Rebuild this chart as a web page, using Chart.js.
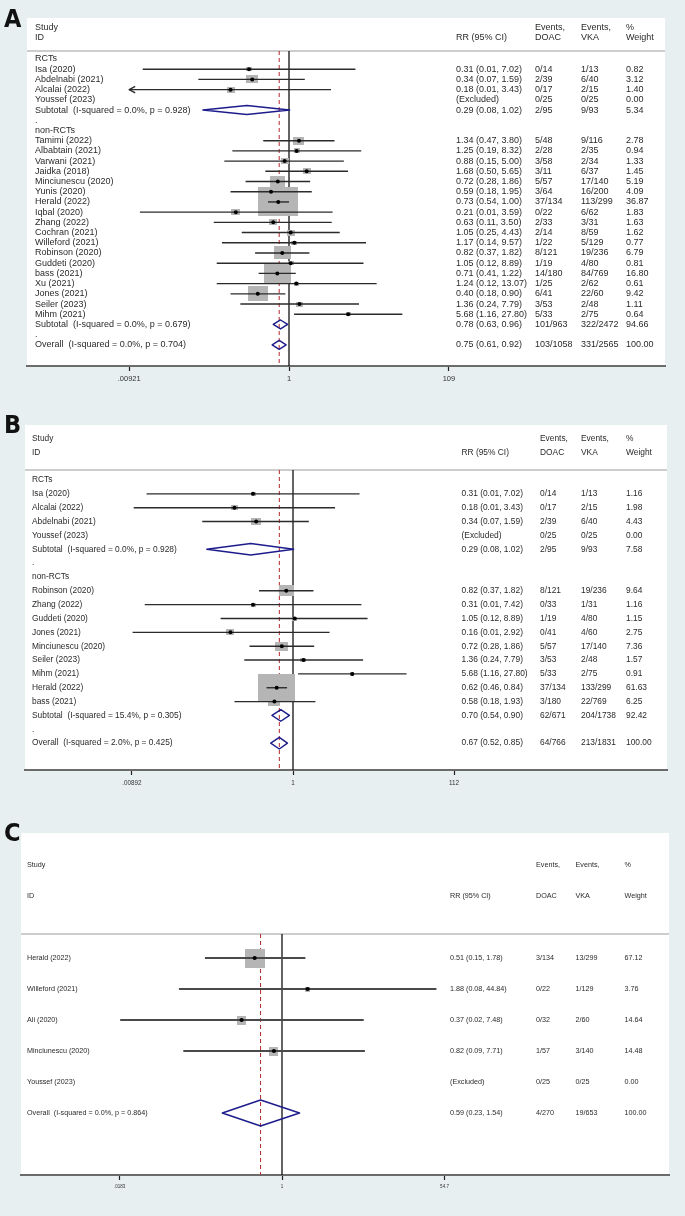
<!DOCTYPE html>
<html>
<head>
<meta charset="utf-8">
<script src="https://cdn.jsdelivr.net/npm/chart.js@4.4.1/dist/chart.umd.min.js"></script>
<style>
html, body { margin: 0; padding: 0; background: #e8eff1; }
#wrap { position: relative; width: 685px; height: 1216px; overflow: hidden; }
canvas { position: absolute; left: 0; }
</style>
</head>
<body>
<div id="wrap">
  <canvas id="pA" width="685" height="395" style="top:0"></canvas>
  <canvas id="pB" width="685" height="405" style="top:395px"></canvas>
  <canvas id="pC" width="685" height="416" style="top:800px"></canvas>
</div>
<script>
'use strict';
/* Forest plots A/B/C — DOAC vs VKA, RR (95% CI), Stata metan look. */

// ---------- panel A ----------
const A_labels = ['RCTs', 'Isa (2020)', 'Abdelnabi (2021)', 'Alcalai (2022)', 'Youssef (2023)',
  'Subtotal  (I-squared = 0.0%, p = 0.928)', '.', 'non-RCTs',
  'Tamimi (2022)', 'Albabtain (2021)', 'Varwani (2021)', 'Jaidka (2018)', 'Minciunescu (2020)',
  'Yunis (2020)', 'Herald (2022)', 'Iqbal (2020)', 'Zhang (2022)', 'Cochran (2021)',
  'Willeford (2021)', 'Robinson (2020)', 'Guddeti (2020)', 'bass (2021)', 'Xu (2021)',
  'Jones (2021)', 'Seiler (2023)', 'Mihm (2021)',
  'Subtotal  (I-squared = 0.0%, p = 0.679)', '.', 'Overall  (I-squared = 0.0%, p = 0.704)'];
const A_kind = ['group', 'study', 'study', 'study', 'excluded', 'pooled', 'gap', 'group',
  'study', 'study', 'study', 'study', 'study', 'study', 'study', 'study', 'study', 'study',
  'study', 'study', 'study', 'study', 'study', 'study', 'study', 'study', 'pooled', 'gap', 'pooled'];
const A_rr = [null, 0.31, 0.34, 0.18, null, 0.29, null, null,
  1.34, 1.25, 0.88, 1.68, 0.72, 0.59, 0.73, 0.21, 0.63, 1.05, 1.17, 0.82, 1.05, 0.71, 1.24,
  0.40, 1.36, 5.68, 0.78, null, 0.75];
const A_lo = [null, 0.0137, 0.07, 0.0090, null, 0.08, null, null,
  0.47, 0.19, 0.15, 0.50, 0.28, 0.18, 0.54, 0.0126, 0.11, 0.25, 0.14, 0.37, 0.12, 0.41, 0.12,
  0.18, 0.24, 1.16, 0.63, null, 0.61];
const A_hi = [null, 7.02, 1.59, 3.43, null, 1.02, null, null,
  3.80, 8.32, 5.00, 5.65, 1.86, 1.95, 1.00, 3.59, 3.50, 4.43, 9.57, 1.82, 8.89, 1.22, 13.07,
  0.90, 7.79, 27.80, 0.96, null, 0.92];
const A_doac = ['', '0/14', '2/39', '0/17', '0/25', '2/95', '', '',
  '5/48', '2/28', '3/58', '3/11', '5/57', '3/64', '37/134', '0/22', '2/33', '2/14', '1/22',
  '8/121', '1/19', '14/180', '1/25', '6/41', '3/53', '5/33', '101/963', '', '103/1058'];
const A_vka = ['', '1/13', '6/40', '2/15', '0/25', '9/93', '', '',
  '9/116', '2/35', '2/34', '6/37', '17/140', '16/200', '113/299', '6/62', '3/31', '8/59', '5/129',
  '19/236', '4/80', '84/769', '2/62', '22/60', '2/48', '2/75', '322/2472', '', '331/2565'];
const A_weight = [null, 0.82, 3.12, 1.40, 0.00, 5.34, null, null,
  2.78, 0.94, 1.33, 1.45, 5.19, 4.09, 36.87, 1.83, 1.63, 1.62, 0.77, 6.79, 0.81, 16.80, 0.61,
  9.42, 1.11, 0.64, 94.66, null, 100.00];
const A_ticks = [0.00921, 1, 109];
const A_tickText = ['.00921', '1', '109'];

// ---------- panel B ----------
const B_labels = ['RCTs', 'Isa (2020)', 'Alcalai (2022)', 'Abdelnabi (2021)', 'Youssef (2023)',
  'Subtotal  (I-squared = 0.0%, p = 0.928)', '.', 'non-RCTs',
  'Robinson (2020)', 'Zhang (2022)', 'Guddeti (2020)', 'Jones (2021)', 'Minciunescu (2020)',
  'Seiler (2023)', 'Mihm (2021)', 'Herald (2022)', 'bass (2021)',
  'Subtotal  (I-squared = 15.4%, p = 0.305)', '.', 'Overall  (I-squared = 2.0%, p = 0.425)'];
const B_kind = ['group', 'study', 'study', 'study', 'excluded', 'pooled', 'gap', 'group',
  'study', 'study', 'study', 'study', 'study', 'study', 'study', 'study', 'study', 'pooled', 'gap', 'pooled'];
const B_rr = [null, 0.31, 0.18, 0.34, null, 0.29, null, null,
  0.82, 0.31, 1.05, 0.16, 0.72, 1.36, 5.68, 0.62, 0.58, 0.70, null, 0.67];
const B_lo = [null, 0.0137, 0.0094, 0.07, null, 0.08, null, null,
  0.37, 0.013, 0.12, 0.0091, 0.28, 0.24, 1.16, 0.46, 0.18, 0.54, null, 0.52];
const B_hi = [null, 7.02, 3.43, 1.59, null, 1.02, null, null,
  1.82, 7.42, 8.89, 2.92, 1.86, 7.79, 27.80, 0.84, 1.93, 0.90, null, 0.85];
const B_doac = ['', '0/14', '0/17', '2/39', '0/25', '2/95', '', '',
  '8/121', '0/33', '1/19', '0/41', '5/57', '3/53', '5/33', '37/134', '3/180', '62/671', '', '64/766'];
const B_vka = ['', '1/13', '2/15', '6/40', '0/25', '9/93', '', '',
  '19/236', '1/31', '4/80', '4/60', '17/140', '2/48', '2/75', '133/299', '22/769', '204/1738', '', '213/1831'];
const B_weight = [null, 1.16, 1.98, 4.43, 0.00, 7.58, null, null,
  9.64, 1.16, 1.15, 2.75, 7.36, 1.57, 0.91, 61.63, 6.25, 92.42, null, 100.00];
const B_ticks = [0.00892, 1, 112];
const B_tickText = ['.00892', '1', '112'];

// ---------- panel C ----------
const C_labels = ['Herald (2022)', 'Willeford (2021)', 'Ali (2020)', 'Minciunescu (2020)',
  'Youssef (2023)', 'Overall  (I-squared = 0.0%, p = 0.864)'];
const C_kind = ['study', 'study', 'study', 'study', 'excluded', 'pooled'];
const C_rr = [0.51, 1.88, 0.37, 0.82, null, 0.59];
const C_lo = [0.15, 0.079, 0.0186, 0.088, null, 0.23];
const C_hi = [1.78, 44.84, 7.48, 7.71, null, 1.54];
const C_doac = ['3/134', '0/22', '0/32', '1/57', '0/25', '4/270'];
const C_vka = ['13/299', '1/129', '2/60', '3/140', '0/25', '19/653'];
const C_weight = [67.12, 3.76, 14.64, 14.48, 0.00, 100.00];
const C_ticks = [0.0183, 1, 54.7];
const C_tickText = ['.0183', '1', '54.7'];

const HEAD = { study: 'Study', id: 'ID', rr: 'RR (95% CI)', ev: 'Events,', doac: 'DOAC', vka: 'VKA', pct: '%', w: 'Weight' };

// ---------- layout (page px) ----------
const FONT = '"Liberation Sans", Arial, sans-serif';
const LAYOUT = {
  A: { top: 0, letter: 'A', letterY: 27, white: 18, hdr1: 28, hdr2: 38, sep: 51, row0: 59, step: 10.21,
       axis: 366, L: 27, R: 665, p1: 289, dec: 78.5, font: 9, tickFont: 7.5, tickPad: 3,
       cols: { label: 35, rr: 456, doac: 535, vka: 581, w: 626 },
       box: [6.6, 4.8], boxMin: 4, ciW: 1.4, ciColor: '#2b2b2b', dot: 2, dia: 0.44 },
  B: { top: 395, letter: 'B', letterY: 433, white: 425, hdr1: 439, hdr2: 453, sep: 470, row0: 480, step: 13.85,
       axis: 770, L: 25, R: 667, p1: 293, dec: 78.6, font: 8.4, tickFont: 6.3, tickPad: 4,
       cols: { label: 32, rr: 461.5, doac: 540, vka: 581, w: 626 },
       box: [4.7, 3.45], boxMin: 4, ciW: 1.4, ciColor: '#2b2b2b', dot: 2, dia: 0.42 },
  C: { top: 800, letter: 'C', letterY: 841, white: 833, hdr1: 865, hdr2: 896, sep: 934, row0: 958, step: 31,
       axis: 1175, L: 21, R: 669, p1: 282, dec: 93.5, font: 7.2, tickFont: 4.5, tickPad: 4,
       cols: { label: 27, rr: 450, doac: 536, vka: 575.5, w: 624.5 },
       box: [2.45, 2.35], boxMin: 5, ciW: 2, ciColor: '#4a4a4a', dot: 2.1, dia: 0.42 },
};

function boxImg(w, P) {
  const c = document.createElement('canvas');
  c.width = Math.max(P.boxMin, Math.round(P.box[0] * Math.sqrt(w)));
  c.height = Math.max(P.boxMin, Math.round(P.box[1] * Math.sqrt(w)));
  const g = c.getContext('2d');
  g.fillStyle = '#b5b5b5';
  g.fillRect(0, 0, c.width, c.height);
  return c;
}

function seg(points, color, width, order, extra) {
  return Object.assign({ data: points, showLine: true, borderColor: color, borderWidth: width,
    pointRadius: 0, fill: false, order, borderJoinStyle: 'round' }, extra || {});
}

function buildDatasets(D, P, yMin, yMax) {
  const ds = [];
  const last = D.rr.length - 1;
  ds.push(seg([{ x: 1, y: yMin }, { x: 1, y: yMax }], '#111', 1.3, 9));
  ds.push(seg([{ x: D.rr[last], y: yMin }, { x: D.rr[last], y: yMax }], '#b3262d', 1, 8,
    { borderDash: [4, 3] }));

  const studies = D.kind.map((k, i) => (k === 'study' ? i : -1)).filter(i => i >= 0);
  ds.push({ data: studies.map(i => ({ x: D.rr[i], y: i })), pointRadius: 1,
    pointStyle: studies.map(i => boxImg(D.weight[i], P)), order: 7 });

  const xLow = D.ticks[0];
  studies.forEach(i => {
    ds.push(seg([{ x: Math.max(D.lo[i], xLow), y: i }, { x: D.hi[i], y: i }], P.ciColor, P.ciW, 5));
    if (D.lo[i] < xLow) {
      const f = Math.pow(10, 6 / P.dec), h = 3.2 / P.step;
      ds.push(seg([{ x: xLow * f, y: i - h }, { x: xLow, y: i }, { x: xLow * f, y: i + h }],
        P.ciColor, P.ciW, 5));
    }
  });

  ds.push({ data: studies.map(i => ({ x: D.rr[i], y: i })), pointStyle: 'circle',
    pointRadius: P.dot, backgroundColor: '#000', borderColor: '#000', borderWidth: 0, order: 3 });

  D.kind.forEach((k, i) => {
    if (k !== 'pooled') return;
    const h = P.dia;
    ds.push(seg([{ x: D.lo[i], y: i }, { x: D.rr[i], y: i - h }, { x: D.hi[i], y: i },
      { x: D.rr[i], y: i + h }, { x: D.lo[i], y: i }], '#1c1c8c', 1.4, 1,
      { borderCapStyle: 'round' }));
  });
  return ds;
}

function ciText(rr, lo, hi) {
  return `${rr.toFixed(2)} (${lo.toFixed(2)}, ${hi.toFixed(2)})`;
}

function textLayer(D, P) {
  return {
    id: 'forestText',
    beforeDraw(chart) {
      const c = chart.ctx, t = P.top;
      c.save();
      c.fillStyle = '#fff';
      c.fillRect(P.L, P.white - t, P.R - P.L, P.axis - P.white);
      c.strokeStyle = '#cdcdcd';
      c.lineWidth = 2;
      c.beginPath(); c.moveTo(P.L, P.sep - t); c.lineTo(P.R, P.sep - t); c.stroke();
      c.restore();
    },
    afterDraw(chart) {
      const c = chart.ctx, t = P.top, ys = chart.scales.y, C = P.cols;
      c.save();
      c.fillStyle = '#111';
      c.textBaseline = 'alphabetic';
      c.font = 'bold 25px "Liberation Sans Narrow", "DejaVu Sans Condensed", sans-serif';
      c.fillText(P.letter, 4, P.letterY - t);

      c.font = `${P.font}px ${FONT}`;
      c.textBaseline = 'middle';
      c.fillStyle = '#2a2a2a';
      const h1 = P.hdr1 - t, h2 = P.hdr2 - t;
      c.fillText(HEAD.study, C.label, h1); c.fillText(HEAD.id, C.label, h2);
      c.fillText(HEAD.rr, C.rr, h2);
      c.fillText(HEAD.ev, C.doac, h1); c.fillText(HEAD.doac, C.doac, h2);
      c.fillText(HEAD.ev, C.vka, h1); c.fillText(HEAD.vka, C.vka, h2);
      c.fillText(HEAD.pct, C.w, h1); c.fillText(HEAD.w, C.w, h2);

      D.labels.forEach((lab, i) => {
        const y = ys.getPixelForValue(i);
        c.fillText(lab, C.label, y);
        const k = D.kind[i];
        if (k === 'study' || k === 'pooled') c.fillText(ciText(D.rr[i], D.lo[i], D.hi[i]), C.rr, y);
        if (k === 'excluded') c.fillText('(Excluded)', C.rr, y);
        if (D.doac[i]) c.fillText(D.doac[i], C.doac, y);
        if (D.vka[i]) c.fillText(D.vka[i], C.vka, y);
        if (D.weight[i] !== null) c.fillText(D.weight[i].toFixed(2), C.w, y);
      });
      c.restore();
    },
  };
}

function forest(id, D, P) {
  const canvas = document.getElementById(id);
  const yMin = (P.sep - P.row0) / P.step;
  const yMax = (P.axis - P.row0) / P.step;
  const xMin = Math.pow(10, (P.L - P.p1) / P.dec);
  const xMax = Math.pow(10, (P.R - P.p1) / P.dec);
  const axisH = canvas.height - (P.axis - P.top);
  new Chart(canvas, {
    type: 'scatter',
    data: { datasets: buildDatasets(D, P, yMin, yMax) },
    options: {
      responsive: false, animation: false, events: [],
      layout: { padding: { left: P.L, right: canvas.width - P.R, top: P.sep - P.top, bottom: 0 } },
      plugins: { legend: { display: false }, tooltip: { enabled: false } },
      scales: {
        x: {
          type: 'logarithmic', min: xMin, max: xMax, bounds: 'data',
          afterBuildTicks: s => { s.ticks = D.ticks.map(v => ({ value: v })); },
          afterFit: s => { s.height = axisH; },
          ticks: { autoSkip: false, maxRotation: 0, padding: P.tickPad, color: '#333',
            font: { family: FONT, size: P.tickFont }, callback: (v, i) => D.tickText[i] },
          grid: { display: true, drawOnChartArea: false, drawTicks: true, tickLength: 5,
            tickColor: '#222', tickWidth: 1.2 },
          border: { display: true, color: '#6b6b6b', width: 2 },
        },
        y: { type: 'linear', display: false, reverse: true, min: yMin, max: yMax },
      },
    },
    plugins: [textLayer(D, P)],
  });
}

forest('pA', { labels: A_labels, kind: A_kind, rr: A_rr, lo: A_lo, hi: A_hi, doac: A_doac,
  vka: A_vka, weight: A_weight, ticks: A_ticks, tickText: A_tickText }, LAYOUT.A);
forest('pB', { labels: B_labels, kind: B_kind, rr: B_rr, lo: B_lo, hi: B_hi, doac: B_doac,
  vka: B_vka, weight: B_weight, ticks: B_ticks, tickText: B_tickText }, LAYOUT.B);
forest('pC', { labels: C_labels, kind: C_kind, rr: C_rr, lo: C_lo, hi: C_hi, doac: C_doac,
  vka: C_vka, weight: C_weight, ticks: C_ticks, tickText: C_tickText }, LAYOUT.C);
</script>
</body>
</html>
